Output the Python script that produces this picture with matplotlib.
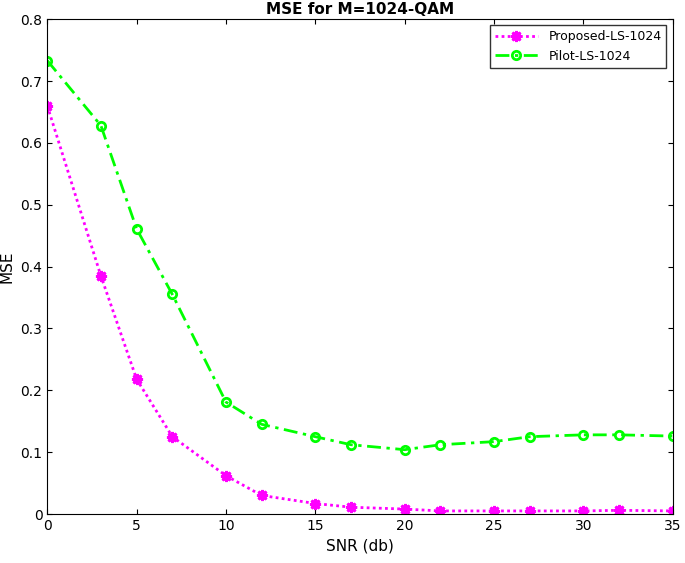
import matplotlib
matplotlib.use("Agg")
import matplotlib.pyplot as plt

# Data
snr_db = [0, 3, 5, 7, 10, 12, 15, 17, 20, 22, 25, 27, 30, 32, 35]
mse_proposed = [0.66, 0.385, 0.218, 0.125, 0.062, 0.030, 0.017, 0.011, 0.008,
                0.005, 0.005, 0.005, 0.005, 0.006, 0.005]
mse_pilot = [0.733, 0.628, 0.461, 0.355, 0.181, 0.145, 0.125, 0.112, 0.104,
             0.112, 0.117, 0.125, 0.128, 0.128, 0.126]

fig = plt.figure(figsize=(6.85, 5.63), dpi=100)
ax = fig.add_axes([0.069, 0.087, 0.913, 0.879])

ax.plot(snr_db, mse_proposed, linestyle=(0, (1, 1.2)), color="#ff00ff",
        linewidth=2, marker=(8, 2, 0), markersize=8, markeredgewidth=2,
        label="Proposed-LS-1024")
ax.plot(snr_db, mse_pilot, linestyle=(0, (5, 2, 1.2, 2)), color="#00ff00",
        linewidth=2, marker="o", markersize=6, markerfacecolor="none",
        markeredgewidth=2, label="Pilot-LS-1024")

ax.set_xlim(0, 35)
ax.set_ylim(0, 0.8)
ax.set_xticks([0, 5, 10, 15, 20, 25, 30, 35])
ax.set_yticks([0, 0.1, 0.2, 0.3, 0.4, 0.5, 0.6, 0.7, 0.8])
ax.set_yticklabels(["0", "0.1", "0.2", "0.3", "0.4", "0.5", "0.6", "0.7", "0.8"])
ax.tick_params(direction="in", labelsize=10, top=True, right=True)
ax.set_xlabel("SNR (db)", fontsize=11)
ax.set_ylabel("MSE", fontsize=11)
ax.set_title("MSE for M=1024-QAM", fontsize=11, fontweight="bold", pad=4)
ax.legend(loc="upper right", fontsize=9, fancybox=False, edgecolor="black",
          handlelength=3.5)

fig.savefig("out.png", dpi=100)
